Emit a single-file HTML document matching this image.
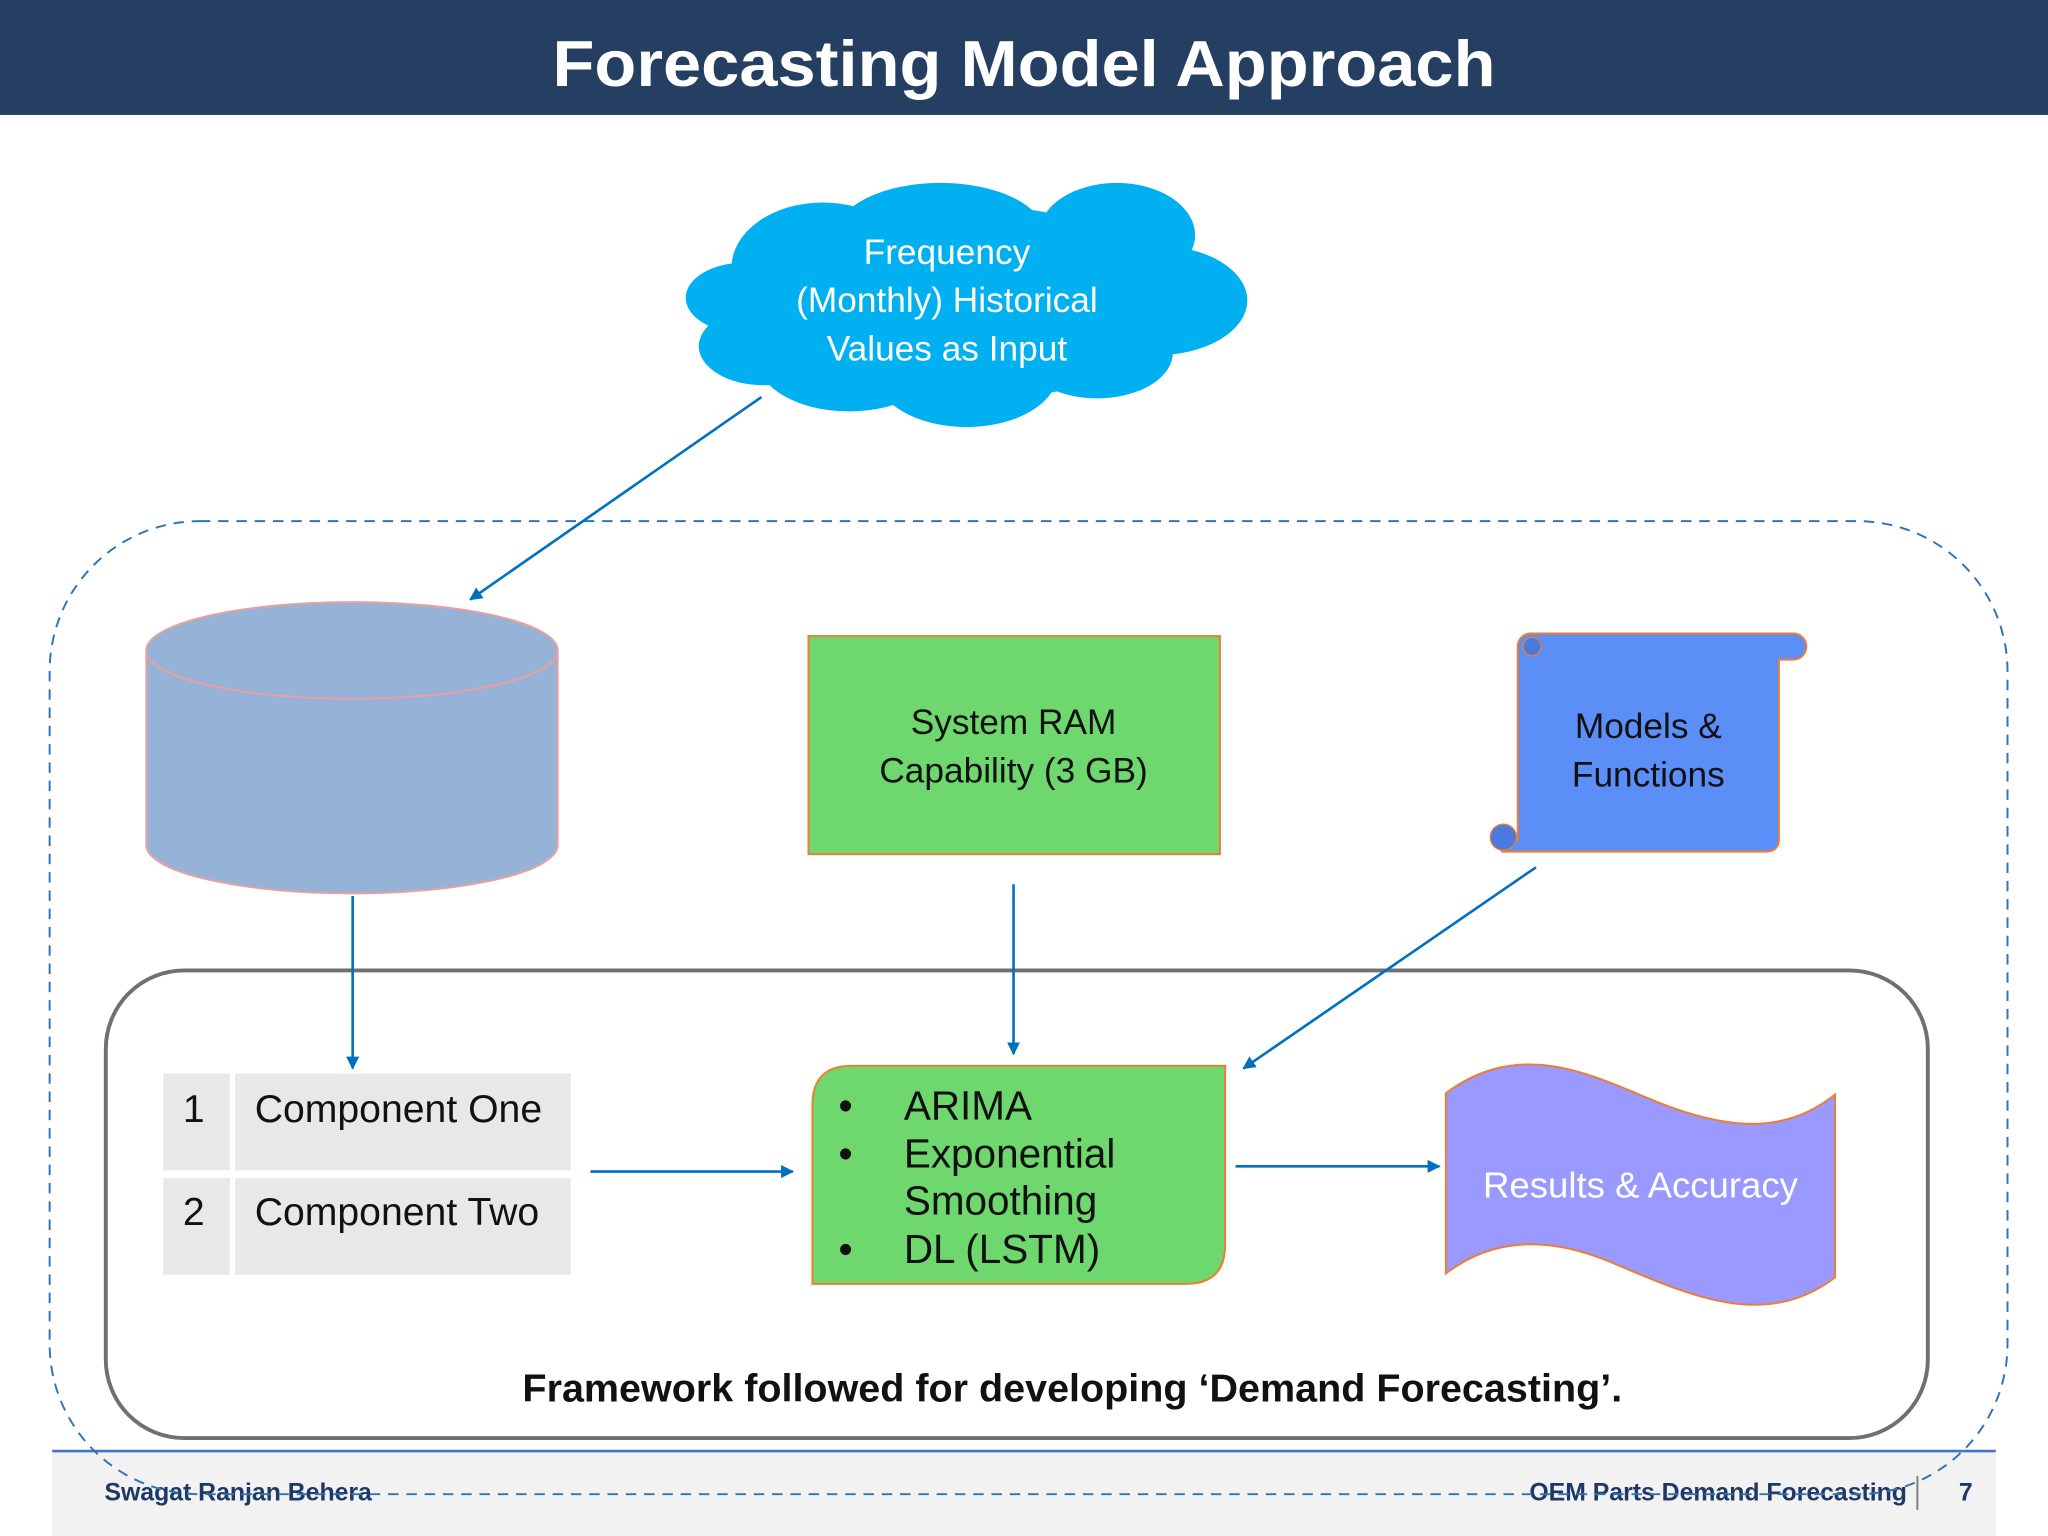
<!DOCTYPE html>
<html><head><meta charset="utf-8"><style>
html,body{margin:0;padding:0;background:#fff;}
svg{display:block;}
text{font-family:"Liberation Sans",Arial,sans-serif;}
</style></head><body>
<svg width="2048" height="1536" viewBox="0 0 1568 1176" preserveAspectRatio="none" xmlns="http://www.w3.org/2000/svg">
<defs>
<marker id="ah" markerWidth="10" markerHeight="10" refX="9" refY="5" orient="auto" markerUnits="userSpaceOnUse">
<path d="M0,0 L10,5 L0,10 z" fill="#0070C0"/></marker>
</defs>
<rect x="0" y="0" width="1568" height="1176" fill="#fff"/>
<!-- header -->
<rect x="0" y="0" width="1568" height="88" fill="#243F62"/>
<text x="784" y="66" text-anchor="middle" font-size="50" font-weight="bold" fill="#fff" textLength="722" lengthAdjust="spacingAndGlyphs">Forecasting Model Approach</text>
<!-- footer -->
<rect x="40" y="1112" width="1488" height="64" fill="#F2F2F2"/>
<line x1="40" y1="1111" x2="1528" y2="1111" stroke="#4472C4" stroke-width="2"/>
<text x="80" y="1149" font-size="19" font-weight="bold" fill="#1F3864">Swagat Ranjan Behera</text>
<text x="1460" y="1149" font-size="19" font-weight="bold" fill="#1F3864" text-anchor="end">OEM Parts Demand Forecasting</text>
<line x1="1468" y1="1130" x2="1468" y2="1156" stroke="#7F7F7F" stroke-width="1.5"/>
<text x="1505" y="1149" font-size="19" font-weight="bold" fill="#1F3864" text-anchor="middle">7</text>
<!-- dashed outer -->
<rect x="38" y="399" width="1499" height="745" rx="115" ry="115" fill="none" stroke="#2E75B6" stroke-width="1.5" stroke-dasharray="8,6"/>
<!-- cloud -->
<g fill="#00B0F0">
<ellipse cx="630" cy="205" rx="70" ry="50"/>
<ellipse cx="720" cy="180" rx="80" ry="40"/>
<ellipse cx="855" cy="180" rx="60" ry="40"/>
<ellipse cx="885" cy="230" rx="70" ry="42"/>
<ellipse cx="840" cy="270" rx="58" ry="35"/>
<ellipse cx="740" cy="285" rx="70" ry="42"/>
<ellipse cx="650" cy="275" rx="70" ry="40"/>
<ellipse cx="585" cy="265" rx="50" ry="30"/>
<ellipse cx="570" cy="228" rx="45" ry="27"/>
<ellipse cx="740" cy="232" rx="160" ry="75"/>
</g>
<g font-size="27" fill="#fff" text-anchor="middle">
<text x="725" y="202">Frequency</text>
<text x="725" y="239">(Monthly) Historical</text>
<text x="725" y="276">Values as Input</text>
</g>
<!-- cylinder -->
<path d="M112,498 L112,647 A157.5,37 0 0 0 427,647 L427,498" fill="#95B3D7" stroke="#E8A0A0" stroke-width="1.5"/>
<ellipse cx="269.5" cy="498" rx="157.5" ry="37" fill="#95B3D7" stroke="#E8A0A0" stroke-width="1.5"/>
<!-- green rect -->
<rect x="619" y="487" width="315" height="167" fill="#6ED86E" stroke="#ED7D31" stroke-width="1.5"/>
<g font-size="27" fill="#111" text-anchor="middle">
<text x="776" y="562">System RAM</text>
<text x="776" y="599">Capability (3 GB)</text>
</g>
<!-- scroll -->
<path d="M1162,494 L1162,643 L1150,643 A10,10 0 0 0 1150,652 L1352,652 Q1362,652 1362,642 L1362,505 L1373,505 A10,10 0 0 0 1373,485 L1172,485 A10,10 0 0 0 1162,494 Z" fill="#5B8EF7" stroke="#ED7D31" stroke-width="1.5"/>
<circle cx="1151" cy="641" r="10" fill="#4A7AE0" stroke="#ED7D31" stroke-width="1"/>
<circle cx="1173" cy="495" r="7" fill="#4A7AE0" stroke="#ED7D31" stroke-width="1"/>
<g font-size="27" fill="#111" text-anchor="middle">
<text x="1262" y="565">Models &amp;</text>
<text x="1262" y="602">Functions</text>
</g>
<!-- gray rounded frame -->
<rect x="81" y="743" width="1395" height="358" rx="60" ry="60" fill="none" stroke="#707070" stroke-width="3"/>
<!-- table -->
<rect x="125" y="822" width="312" height="74" fill="#E8E7EA"/>
<rect x="125" y="902" width="312" height="74" fill="#E8E7EA"/>
<line x1="178" y1="822" x2="178" y2="976" stroke="#fff" stroke-width="4"/>
<g font-size="30" fill="#111">
<text x="140" y="859">1</text><text x="195" y="859">Component One</text>
<text x="140" y="938">2</text><text x="195" y="938">Component Two</text>
</g>
<!-- green snip -->
<path d="M652,816 L938,816 L938,953 Q938,983 908,983 L622,983 L622,846 Q622,816 652,816 Z" fill="#6ED86E" stroke="#ED7D31" stroke-width="1.5"/>
<g font-size="31" fill="#111">
<text x="642" y="857">•</text><text x="692" y="857">ARIMA</text>
<text x="642" y="894">•</text><text x="692" y="894">Exponential</text>
<text x="692" y="930">Smoothing</text>
<text x="642" y="967">•</text><text x="692" y="967">DL (LSTM)</text>
</g>
<!-- wave -->
<path d="M1107,837 C1170,790 1230,830 1280,848 C1330,866 1370,866 1405,838 L1405,978 C1350,1020 1290,990 1230,965 C1180,945 1140,950 1107,975 Z" fill="#9999FF" stroke="#ED7D31" stroke-width="1.5"/>
<text x="1256" y="917" font-size="28" fill="#fff" text-anchor="middle">Results &amp; Accuracy</text>
<!-- arrows -->
<g stroke="#0070C0" stroke-width="2" fill="none" marker-end="url(#ah)">
<line x1="583" y1="304" x2="360" y2="459"/>
<line x1="270" y1="686" x2="270" y2="818"/>
<line x1="776" y1="677" x2="776" y2="807"/>
<line x1="1176" y1="664" x2="952" y2="818"/>
<line x1="452" y1="897" x2="607" y2="897"/>
<line x1="946" y1="893" x2="1102" y2="893"/>
</g>
<text x="821" y="1073" font-size="30" font-weight="bold" fill="#111" text-anchor="middle" textLength="842" lengthAdjust="spacingAndGlyphs">Framework followed for developing ‘Demand Forecasting’.</text>
</svg>
</body></html>
